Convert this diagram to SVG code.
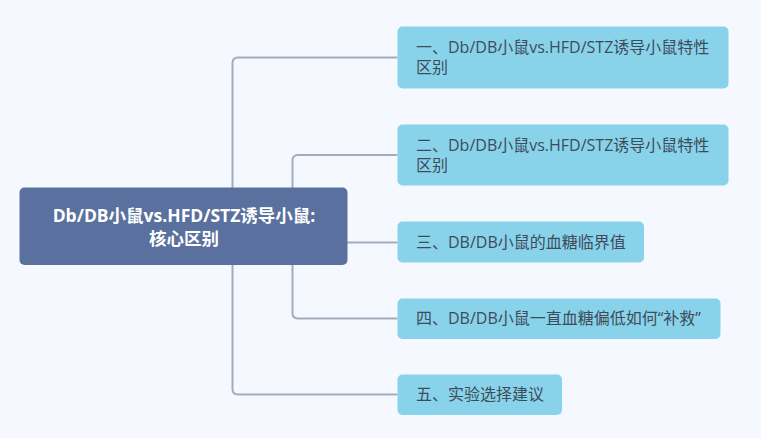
<svg xmlns="http://www.w3.org/2000/svg" width="761" height="438" viewBox="0 0 761 438">
<style>
.bg{fill:#f5f9ff}
.conn{fill:none;stroke:#a3abbd;stroke-width:2}
.root{fill:#5a709e}
.node{fill:#88d3ea}
.rt{font-family:"Open Sans","Noto Sans CJK SC",sans-serif;font-size:17.5px;font-weight:bold;fill:#ffffff;text-anchor:middle}
.nt{font-family:"Open Sans","Noto Sans CJK SC",sans-serif;font-size:16px;fill:#3e4b5b}
</style>
<rect class="bg" x="0" y="0" width="761" height="438"/>
<g id="connectors">
<path class="conn" d="M397.5 57.5 H238 Q232.5 57.5 232.5 63 V389 Q232.5 394.5 238 394.5 H397.5"/>
<path class="conn" d="M397.5 155 H298 Q292.5 155 292.5 160.5 V313 Q292.5 318.5 298 318.5 H397.5"/>
<path class="conn" d="M347 242.5 H397.5"/>
</g>
<g id="root">
<rect class="root" x="19.5" y="187.5" width="328" height="77.5" rx="5"/>
<text class="rt" x="184" y="222">Db/DB小鼠vs.HFD/STZ诱导小鼠:</text>
<text class="rt" x="184" y="245">核心区别</text>
</g>
<g id="n1">
<rect class="node" x="397.5" y="26.5" width="331" height="62" rx="5"/>
<text class="nt" x="416" y="53">一、Db/DB小鼠vs.HFD/STZ诱导小鼠特性</text>
<text class="nt" x="416" y="73">区别</text>
</g>
<g id="n2">
<rect class="node" x="397.5" y="124.5" width="331" height="61" rx="5"/>
<text class="nt" x="416" y="151">二、Db/DB小鼠vs.HFD/STZ诱导小鼠特性</text>
<text class="nt" x="416" y="171">区别</text>
</g>
<g id="n3">
<rect class="node" x="397.5" y="221.5" width="246.5" height="41" rx="5"/>
<text class="nt" x="416" y="248">三、DB/DB小鼠的血糖临界值</text>
</g>
<g id="n4">
<rect class="node" x="397.5" y="298.5" width="323" height="40.5" rx="5"/>
<text class="nt" x="416" y="324">四、DB/DB小鼠一直血糖偏低如何“补救”</text>
</g>
<g id="n5">
<rect class="node" x="397.5" y="374.5" width="164.5" height="40.5" rx="5"/>
<text class="nt" x="416" y="400">五、实验选择建议</text>
</g>
</svg>
